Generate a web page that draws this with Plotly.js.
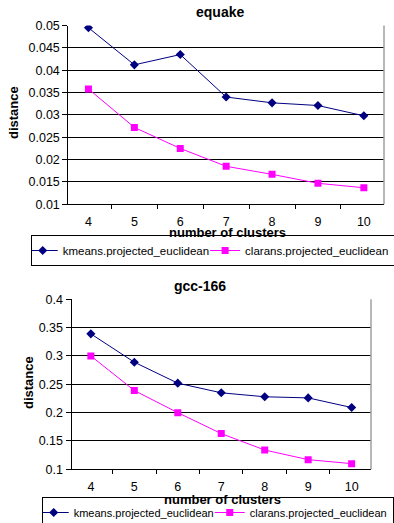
<!DOCTYPE html>
<html>
<head>
<meta charset="utf-8">
<script src="https://cdn.plot.ly/plotly-3.0.1.min.js"></script>
<style>html,body{margin:0;padding:0;background:#fff}#chart{width:394px;height:523px}</style>
</head>
<body>
<div id="chart"></div>
<script>
// ---- data ----
var clusters = ["4", "5", "6", "7", "8", "9", "10"];
var equakeKmeans  = [0.0495, 0.0412, 0.0435, 0.0340, 0.0327, 0.0321, 0.0298];
var equakeClarans = [0.0358, 0.0272, 0.0225, 0.0185, 0.0167, 0.0147, 0.0137];
var gccKmeans  = [0.339, 0.289, 0.252, 0.235, 0.228, 0.226, 0.209];
var gccClarans = [0.300, 0.239, 0.200, 0.163, 0.134, 0.117, 0.110];
var seriesNames = ["kmeans.projected_euclidean", "clarans.projected_euclidean"];
var chartTitles = ["equake", "gcc-166"];
var xTitle = "number of clusters";
var yTitle = "distance";

var W = 394, H = 523;
function px(x){ return x / W; }
function py(y){ return 1 - y / H; }

var FONT = "Arial, 'Liberation Sans', sans-serif";
var navy = "#000080", magenta = "#FF00FF";

function mk(x, y, name, color, sym, xa, ya, leg, show) {
  return {
    x: x, y: y, name: name, type: "scatter", mode: "lines+markers",
    line: {color: color, width: 1},
    marker: {color: color, symbol: sym, size: 7},
    xaxis: xa, yaxis: ya, legend: leg, showlegend: show
  };
}

var traces = [
  mk(clusters, equakeKmeans, seriesNames[0], navy, "diamond", "x", "y", "legend", true),
  mk(clusters, equakeClarans, seriesNames[1], magenta, "square", "x", "y", "legend", true),
  mk(clusters, gccKmeans, seriesNames[0], navy, "diamond", "x2", "y2", "legend2", true),
  mk(clusters, gccClarans, seriesNames[1], magenta, "square", "x2", "y2", "legend2", true)
];

function xax(domain, anchor) {
  return {
    domain: domain, anchor: anchor, type: "category",
    tickson: "boundaries", ticks: "outside", ticklen: 4, tickcolor: "#000",
    showline: true, linecolor: "#000", linewidth: 1, showgrid: false,
    tickfont: {family: FONT, size: 12.5, color: "#000"},
    ticklabelstandoff: 6, zeroline: false, fixedrange: true, automargin: false
  };
}
function yax(domain, anchor, range, dtick) {
  return {
    domain: domain, anchor: anchor, range: range, dtick: dtick, tick0: 0,
    ticks: "outside", ticklen: 5, tickcolor: "#000",
    showline: true, linecolor: "#000", linewidth: 1,
    showgrid: true, gridcolor: "#000", gridwidth: 1, zeroline: false,
    tickfont: {family: FONT, size: 12.5, color: "#000"}, fixedrange: true, automargin: false
  };
}

function ann(text, x, y, size, angle) {
  return {text: "<b>" + text + "</b>", xref: "paper", yref: "paper", x: px(x), y: py(y),
    xanchor: "center", yanchor: "middle", showarrow: false, textangle: angle || 0,
    font: {family: FONT, size: size, color: "#000"}};
}

var layout = {
  width: W, height: H,
  margin: {l: 0, r: 0, t: 0, b: 0, autoexpand: false},
  paper_bgcolor: "#fff", plot_bgcolor: "#fff",
  font: {family: FONT, color: "#000"},
  xaxis: xax([px(68.3), px(384)], "y"),
  yaxis: yax([py(204.3), py(25.5)], "x", [0.01, 0.05], 0.005),
  xaxis2: xax([px(71.5), px(371)], "y2"),
  yaxis2: yax([py(469.3), py(299.3)], "x2", [0.1, 0.4], 0.05),
  legend: {
    orientation: "h", x: px(30.7), y: py(235), xanchor: "left", yanchor: "top",
    bordercolor: "#000", borderwidth: 1, bgcolor: "rgba(0,0,0,0)", indentation: -9,
    font: {family: FONT, size: 11.5, color: "#000"}, tracegroupgap: 0
  },
  legend2: {
    orientation: "h", x: px(41.7), y: py(497), xanchor: "left", yanchor: "top",
    bordercolor: "#000", borderwidth: 1, bgcolor: "rgba(0,0,0,0)", indentation: -9,
    font: {family: FONT, size: 11, color: "#000"}, tracegroupgap: 0
  },
  shapes: [
    {type: "line", xref: "x domain", yref: "y domain", x0: 1, x1: 1, y0: 0, y1: 1,
     line: {color: "#a0a0a0", width: 1.5}},
    {type: "line", xref: "x2 domain", yref: "y2 domain", x0: 1, x1: 1, y0: 0, y1: 1,
     line: {color: "#a0a0a0", width: 1.5}}
  ],
  annotations: [
    ann(chartTitles[0], 220, 12, 14),
    ann(chartTitles[1], 200, 286, 14),
    ann(xTitle, 228, 232, 13),
    ann(xTitle, 222, 499, 13),
    ann(yTitle, 14, 113, 13, -90),
    ann(yTitle, 28, 383, 13, -90)
  ]
};

Plotly.newPlot("chart", traces, layout, {displayModeBar: false, staticPlot: true});
</script>
</body>
</html>
